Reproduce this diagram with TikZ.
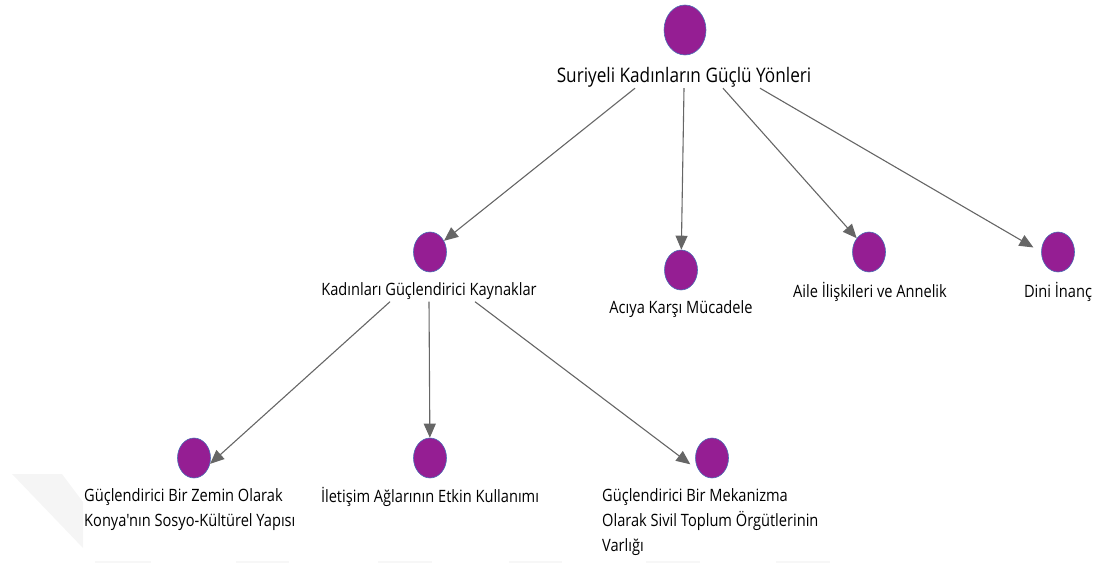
\documentclass[tikz,border=0pt]{standalone}
\usepackage{fontspec}
\setmainfont[FakeStretch=0.86, Ligatures=TeXOff]{Open Sans}
\usetikzlibrary{arrows.meta,shapes.geometric}
\definecolor{themepurple}{HTML}{951E93}
\definecolor{themeblue}{HTML}{4A6FB5}
\definecolor{edgegray}{HTML}{666666}
\tikzset{
  dot/.style={ellipse, fill=themepurple, draw=themeblue, line width=0.6pt,
    minimum width=33pt, minimum height=40pt, inner sep=0pt},
  bigdot/.style={dot, minimum width=42pt, minimum height=50pt},
  lab/.style={font=\fontsize{17}{25}\selectfont, inner sep=2pt},
  biglab/.style={font=\fontsize{20}{25}\selectfont, inner sep=1pt},
  edge/.style={draw=edgegray, line width=1.1pt, -{Triangle[length=14pt,width=12pt]}}
}
\begin{document}
\begin{tikzpicture}[x=1pt,y=1pt]
    \useasboundingbox (0,0) rectangle (1099,563);
    % watermark
    \fill[gray!8] (12,89) -- (62,89) -- (83,61) -- (83,15) -- cycle;
    \foreach \a/\b in {95/151,236/289,378/432,509/562,646/700,776/830}
        \fill[gray!6] (\a,0) rectangle (\b,2);
    % root
    \node[bigdot] (root) at (685,533) {};
    \node[biglab] (rootlab) at (684,486) {Suriyeli Kadınların Güçlü Yönleri};
    % second row
    \node[dot] (kadin) at (430,311) {};
    \node[lab] (kadinlab) at (429,272) {Kadınları Güçlendirici Kaynaklar};
    \node[dot] (aciya) at (681,293) {};
    \node[lab] (aciyalab) at (681,254) {Acıya Karşı Mücadele};
    \node[dot] (aile) at (869,311) {};
    \node[lab] (ailelab) at (870,271) {Aile İlişkileri ve Annelik};
    \node[dot] (dini) at (1058,311) {};
    \node[lab] (dinilab) at (1058,271) {Dini İnanç};
    % third row
    \node[dot] (zemin) at (194,105) {};
    \node[lab, align=left, anchor=west] (zeminlab) at (82,53) {Güçlendirici Bir Zemin Olarak\\Konya'nın Sosyo-Kültürel Yapısı};
    \node[dot] (iletisim) at (430,105) {};
    \node[lab] (iletisimlab) at (430,66) {İletişim Ağlarının Etkin Kullanımı};
    \node[dot] (mekan) at (712,105) {};
    \node[lab, align=left, anchor=west] (mekanlab) at (600,41) {Güçlendirici Bir Mekanizma\\Olarak Sivil Toplum Örgütlerinin\\Varlığı};
    % edges
    \draw[edge] ([xshift=-49pt]rootlab.south) -- (kadin);
    \draw[edge] (rootlab.south) -- (aciya);
    \draw[edge] ([xshift=39pt]rootlab.south) -- (aile);
    \draw[edge, shorten >=9pt] ([xshift=76pt]rootlab.south) -- (dini.west);
    \draw[edge] ([xshift=-39pt]kadinlab.south) -- (zemin.-20);
    \draw[edge] (kadinlab.south) -- (iletisim);
    \draw[edge, shorten >=11pt] ([xshift=46pt]kadinlab.south) -- (mekan.225);
\end{tikzpicture}
\end{document}
